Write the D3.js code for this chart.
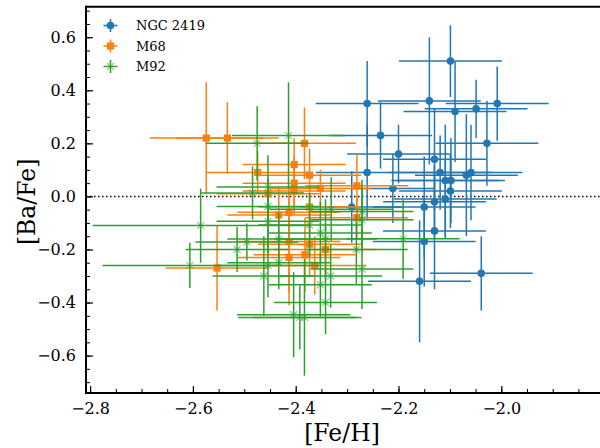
<!DOCTYPE html>
<html>
<head>
<meta charset="utf-8">
<script src="https://cdn.jsdelivr.net/npm/d3@7"></script>
<style>
  html, body { margin: 0; padding: 0; background: #fff; }
  svg { display: block; }
  text { font-family: "DejaVu Serif", serif; fill: #000; }
</style>
</head>
<body>
<svg id="chart" width="600" height="448"></svg>
<script>
// [Fe/H] vs [Ba/Fe] for three globular clusters, with 1-sigma errors
const ngcFeH   = [-2.261, -2.235, -2.200, -2.211, -2.261, -2.291, -2.140, -2.099, -2.090, -2.049, -2.008, -2.028, -2.130,
                  -2.119, -2.109, -2.098, -2.068, -2.059, -2.099, -2.130, -2.109, -2.150, -2.130, -2.150, -2.039, -2.159];
const ngcBaFe  = [0.35, 0.23, 0.16, 0.03, 0.09, -0.04, 0.36, 0.51, 0.32, 0.33, 0.35, 0.20, 0.14,
                  0.09, 0.06, 0.06, 0.08, 0.09, 0.02, -0.02, -0.01, -0.04, -0.13, -0.17, -0.29, -0.32];
const ngcFeErr = [0.10, 0.10, 0.10, 0.08, 0.10, 0.10, 0.10, 0.10, 0.10, 0.10, 0.10, 0.10, 0.10,
                  0.10, 0.105, 0.105, 0.10, 0.10, 0.10, 0.10, 0.10, 0.10, 0.10, 0.10, 0.10, 0.10];
const ngcBaErr = [0.16, 0.125, 0.11, 0.13, 0.18, 0.135, 0.24, 0.135, 0.19, 0.11, 0.14, 0.16, 0.19,
                  0.14, 0.21, 0.16, 0.23, 0.18, 0.14, 0.14, 0.15, 0.19, 0.22, 0.17, 0.14, 0.23];

const m68FeH   = [-2.574, -2.533, -2.383, -2.403, -2.474, -2.373, -2.403, -2.352, -2.403, -2.281, -2.454,
                  -2.373, -2.433, -2.413, -2.281, -2.413, -2.373, -2.342, -2.413, -2.382, -2.363, -2.553];
const m68BaFe  = [0.22, 0.22, 0.20, 0.12, 0.09, 0.08, 0.05, 0.03, 0.02, 0.04, 0.01,
                  -0.04, -0.07, -0.06, -0.08, -0.17, -0.18, -0.20, -0.23, -0.22, -0.26, -0.27];
const m68FeErr = [0.11, 0.10, 0.10, 0.10, 0.10, 0.10, 0.10, 0.10, 0.10, 0.10, 0.10,
                  0.10, 0.10, 0.10, 0.10, 0.10, 0.10, 0.10, 0.10, 0.10, 0.10, 0.10];
const m68BaErr = [0.21, 0.135, 0.135, 0.10, 0.08, 0.10, 0.10, 0.07, 0.09, 0.12, 0.06,
                  0.08, 0.10, 0.10, 0.08, 0.19, 0.12, 0.10, 0.18, 0.14, 0.11, 0.16];

const m92FeH   = [-2.414, -2.475, -2.454, -2.484, -2.454, -2.585, -2.454, -2.373, -2.331, -2.271, -2.352,
                  -2.271, -2.342, -2.433, -2.495, -2.514, -2.606, -2.454, -2.462, -2.352, -2.342, -2.332,
                  -2.404, -2.392, -2.383, -2.271, -2.282, -2.191, -2.433];
const m92BaFe  = [0.23, 0.20, 0.035, 0.013, -0.038, -0.11, -0.094, -0.108, -0.048, -0.057, -0.138,
                  -0.088, -0.161, -0.161, -0.172, -0.20, -0.26, -0.26, -0.30, -0.333, -0.40, -0.30,
                  -0.446, -0.456, -0.456, -0.274, -0.20, -0.16, -0.25];
const m92FeErr = [0.11, 0.10, 0.10, 0.10, 0.10, 0.21, 0.10, 0.10, 0.12, 0.10, 0.10,
                  0.10, 0.10, 0.10, 0.10, 0.10, 0.17, 0.10, 0.10, 0.10, 0.10, 0.10,
                  0.11, 0.12, 0.10, 0.10, 0.10, 0.11, 0.10];
const m92BaErr = [0.20, 0.14, 0.12, 0.10, 0.10, 0.14, 0.12, 0.12, 0.12, 0.12, 0.12,
                  0.12, 0.15, 0.10, 0.07, 0.085, 0.085, 0.12, 0.15, 0.12, 0.12, 0.12,
                  0.16, 0.12, 0.22, 0.15, 0.13, 0.15, 0.10];

const seriesNames  = ["NGC 2419", "M68", "M92"];
const seriesColors = ["#1f77b4", "#ff7f0e", "#2ca02c"];
const seriesMarks  = ["circle", "square", "cross"];

const xTicks = [-2.8, -2.6, -2.4, -2.2, -2.0];
const yTicks = [-0.6, -0.4, -0.2, 0.0, 0.2, 0.4, 0.6];

const series = [
  { feh: ngcFeH, ba: ngcBaFe, fe: ngcFeErr, be: ngcBaErr },
  { feh: m68FeH, ba: m68BaFe, fe: m68FeErr, be: m68BaErr },
  { feh: m92FeH, ba: m92BaFe, fe: m92FeErr, be: m92BaErr }
].map((s, k) => ({
  name: seriesNames[k], color: seriesColors[k], mark: seriesMarks[k],
  points: s.feh.map((v, i) => ({ x: v, y: s.ba[i], xe: s.fe[i], ye: s.be[i] }))
}));

const svg = d3.select("#chart");
const plot = { left: 86, right: 600, top: 6.7, bottom: 393 };

const x = d3.scaleLinear().domain([-2.808, -1.808]).range([plot.left, plot.right]);
const y = d3.scaleLinear().domain([-0.741, 0.715]).range([plot.bottom, plot.top]);

svg.append("defs").append("clipPath").attr("id", "plotclip")
  .append("rect").attr("x", plot.left).attr("y", plot.top)
  .attr("width", plot.right - plot.left).attr("height", plot.bottom - plot.top);

// zero reference line
svg.append("line")
  .attr("x1", plot.left).attr("x2", plot.right)
  .attr("y1", y(0)).attr("y2", y(0))
  .attr("stroke", "#000").attr("stroke-width", 1.5)
  .attr("stroke-dasharray", "1.5,2.5");

const fmt = d3.format(".1f");

// minor ticks
const xMinor = d3.range(-2.8, -1.80, 0.05).map(v => +v.toFixed(2));
const yMinor = d3.range(-0.7, 0.71, 0.05).map(v => +v.toFixed(2));

svg.append("g").attr("transform", `translate(0,${plot.bottom})`)
  .call(d3.axisBottom(x).tickValues(xMinor).tickSize(-4).tickFormat(""))
  .call(g => g.select(".domain").remove())
  .call(g => g.selectAll("line").attr("stroke", "#000").attr("stroke-width", 1));

svg.append("g").attr("transform", `translate(${plot.left},0)`)
  .call(d3.axisLeft(y).tickValues(yMinor).tickSize(-4).tickFormat(""))
  .call(g => g.select(".domain").remove())
  .call(g => g.selectAll("line").attr("stroke", "#000").attr("stroke-width", 1));

// major ticks with labels
svg.append("g").attr("transform", `translate(0,${plot.bottom})`)
  .call(d3.axisBottom(x).tickValues(xTicks).tickSize(-7).tickPadding(10).tickFormat(fmt))
  .call(g => g.select(".domain").remove())
  .call(g => g.selectAll("line").attr("stroke", "#000").attr("stroke-width", 1.2))
  .call(g => g.selectAll("text").attr("font-family", "DejaVu Serif").attr("font-size", 16).attr("fill", "#000"));

svg.append("g").attr("transform", `translate(${plot.left},0)`)
  .call(d3.axisLeft(y).tickValues(yTicks).tickSize(-7).tickPadding(10).tickFormat(fmt))
  .call(g => g.select(".domain").remove())
  .call(g => g.selectAll("line").attr("stroke", "#000").attr("stroke-width", 1.2))
  .call(g => g.selectAll("text").attr("font-family", "DejaVu Serif").attr("font-size", 16).attr("fill", "#000"));

// data: error bars and markers per cluster
function drawMarker(g, mark, color, cx, cy) {
  if (mark === "circle") {
    g.append("circle").attr("cx", cx).attr("cy", cy).attr("r", 3.8).attr("fill", color);
  } else if (mark === "square") {
    g.append("rect").attr("x", cx - 3.6).attr("y", cy - 3.6).attr("width", 7.2).attr("height", 7.2).attr("fill", color);
  } else {
    const r = 3.5;
    g.append("path")
      .attr("d", `M${cx - r},${cy - r}L${cx + r},${cy + r}M${cx - r},${cy + r}L${cx + r},${cy - r}`)
      .attr("stroke", color).attr("stroke-width", 1.2).attr("stroke-opacity", 0.55).attr("fill", "none");
  }
}

const dataLayer = svg.append("g").attr("clip-path", "url(#plotclip)");
series.forEach(s => {
  const g = dataLayer.append("g");
  s.points.forEach(p => {
    g.append("line")
      .attr("x1", x(p.x - p.xe)).attr("x2", x(p.x + p.xe))
      .attr("y1", y(p.y)).attr("y2", y(p.y))
      .attr("stroke", s.color).attr("stroke-width", 1.5);
    g.append("line")
      .attr("x1", x(p.x)).attr("x2", x(p.x))
      .attr("y1", y(p.y - p.ye)).attr("y2", y(p.y + p.ye))
      .attr("stroke", s.color).attr("stroke-width", 1.5);
  });
  s.points.forEach(p => drawMarker(g, s.mark, s.color, x(p.x), y(p.y)));
});

// spines
svg.append("line").attr("x1", plot.left).attr("x2", plot.right).attr("y1", plot.top).attr("y2", plot.top)
  .attr("stroke", "#000").attr("stroke-width", 2);
svg.append("line").attr("x1", plot.left).attr("x2", plot.right).attr("y1", plot.bottom).attr("y2", plot.bottom)
  .attr("stroke", "#000").attr("stroke-width", 2);
svg.append("line").attr("x1", plot.left).attr("x2", plot.left).attr("y1", plot.top - 1).attr("y2", plot.bottom + 1)
  .attr("stroke", "#000").attr("stroke-width", 2);

// axis titles
svg.append("text").attr("x", (plot.left + plot.right) / 2 - 1).attr("y", 441)
  .attr("text-anchor", "middle").attr("font-size", 23.5).text("[Fe/H]");
svg.append("text").attr("transform", `translate(35,${(plot.top + plot.bottom) / 2 + 2}) rotate(-90)`)
  .attr("text-anchor", "middle").attr("font-size", 23.5).text("[Ba/Fe]");

// legend
const legend = svg.append("g");
series.forEach((s, i) => {
  const cx = 110.5, cy = 25.5 + i * 20.5;
  legend.append("line").attr("x1", cx - 7).attr("x2", cx + 7).attr("y1", cy).attr("y2", cy)
    .attr("stroke", s.color).attr("stroke-width", 1.5);
  legend.append("line").attr("x1", cx).attr("x2", cx).attr("y1", cy - 6.5).attr("y2", cy + 6.5)
    .attr("stroke", s.color).attr("stroke-width", 1.5);
  drawMarker(legend, s.mark, s.color, cx, cy);
  legend.append("text").attr("x", 136).attr("y", cy + 4.6).attr("font-size", 13).text(s.name);
});
</script>
</body>
</html>
